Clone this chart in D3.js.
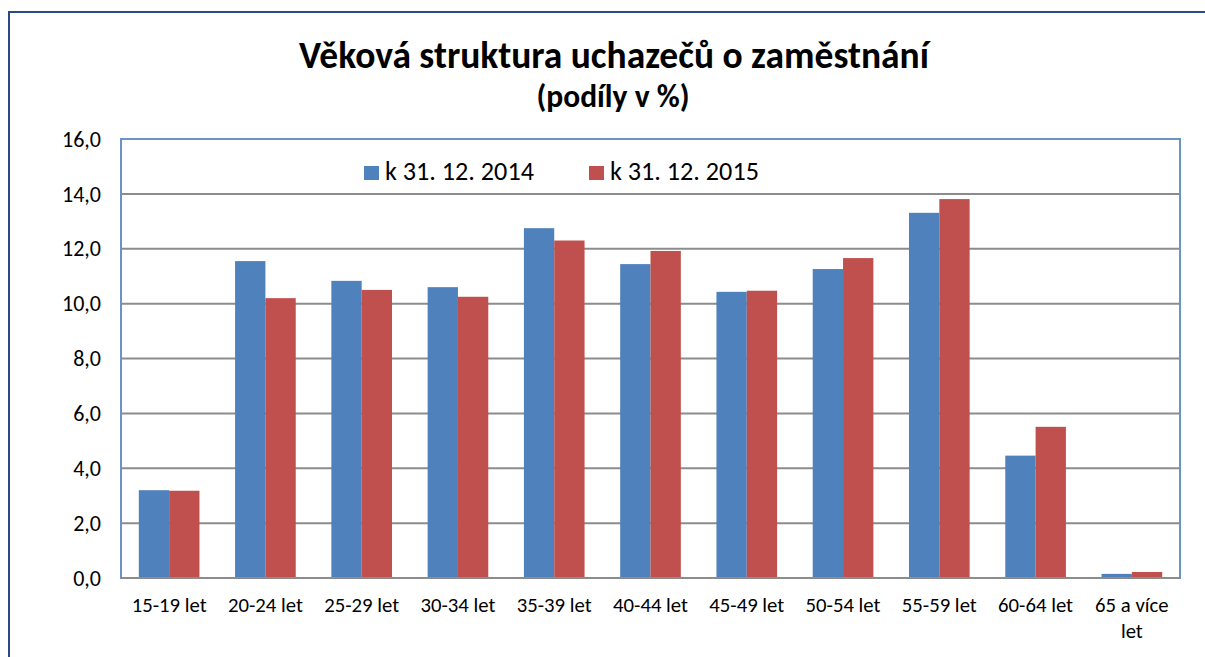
<!DOCTYPE html>
<html>
<head>
<meta charset="utf-8">
<script src="https://cdn.jsdelivr.net/npm/d3@7"></script>
<style>
  body { margin: 0; background: #fff; }
  svg { display: block; font-family: Carlito, Lato, "Open Sans", sans-serif; }
</style>
</head>
<body>
<div id="chart"></div>
<script>
// data
const categories = ["15-19 let", "20-24 let", "25-29 let", "30-34 let", "35-39 let",
  "40-44 let", "45-49 let", "50-54 let", "55-59 let", "60-64 let", "65 a více let"];
const series = ["k 31. 12. 2014", "k 31. 12. 2015"];
const values2014 = [3.2, 11.55, 10.83, 10.6, 12.75, 11.44, 10.43, 11.26, 13.31, 4.46, 0.15];
const values2015 = [3.18, 10.2, 10.5, 10.25, 12.3, 11.92, 10.47, 11.66, 13.81, 5.51, 0.22];
const yTicks = [0, 2, 4, 6, 8, 10, 12, 14, 16];
const colors = ["#4f81bd", "#c0504d"];

const width = 1205, height = 657;
const plot = { left: 121, right: 1180, top: 139, bottom: 578 };

const svg = d3.select("#chart").append("svg")
  .attr("width", width)
  .attr("height", height);

// font size that makes a sample string reach a given width
function fitSize(sample, target, weight) {
  const t = svg.append("text")
    .attr("font-size", 20)
    .attr("font-weight", weight || "normal")
    .text(sample);
  const w = t.node().getComputedTextLength();
  t.remove();
  return 20 * target / w;
}

const titleSize = fitSize("Věková struktura uchazečů o zaměstnání", 630, "bold");
const subSize = fitSize("(podíly v %)", 153, "bold");
const legendSize = fitSize("k 31. 12. 2014", 149);
const xLabelSize = fitSize("15-19 let", 75);
const yLabelSize = fitSize("16,0", 39);

// outer chart border
svg.append("rect")
  .attr("x", 9).attr("y", 12)
  .attr("width", 1210).attr("height", 700)
  .attr("fill", "none")
  .attr("stroke", "#2a4a85")
  .attr("stroke-width", 2);

// scales
const x = d3.scaleBand()
  .domain(categories)
  .range([plot.left, plot.right])
  .paddingInner(0.37)
  .paddingOuter(0.185);

const xs = d3.scaleBand()
  .domain(series)
  .range([0, x.bandwidth()]);

const y = d3.scaleLinear()
  .domain([0, 16])
  .range([plot.bottom, plot.top]);

// gridlines
svg.append("g")
  .selectAll("line")
  .data(yTicks.filter(d => d > 0 && d < 16))
  .join("line")
  .attr("x1", plot.left).attr("x2", plot.right)
  .attr("y1", d => y(d)).attr("y2", d => y(d))
  .attr("stroke", "#8c8c8c")
  .attr("stroke-width", 2);

// plot area outline
svg.append("rect")
  .attr("x", plot.left).attr("y", plot.top)
  .attr("width", plot.right - plot.left)
  .attr("height", plot.bottom - plot.top)
  .attr("fill", "none")
  .attr("stroke", "#6a93c8")
  .attr("stroke-width", 2);

// bars
const rows = categories.map((c, i) => ({ cat: c, vals: [values2014[i], values2015[i]] }));
svg.append("g")
  .selectAll("g")
  .data(rows)
  .join("g")
  .attr("transform", d => `translate(${x(d.cat)},0)`)
  .selectAll("rect")
  .data(d => d.vals.map((v, j) => ({ s: series[j], v, j })))
  .join("rect")
  .attr("x", d => xs(d.s))
  .attr("y", d => y(d.v))
  .attr("width", xs.bandwidth())
  .attr("height", d => y(0) - y(d.v))
  .attr("fill", d => colors[d.j]);

// x axis line
svg.append("line")
  .attr("x1", plot.left).attr("x2", plot.right)
  .attr("y1", plot.bottom).attr("y2", plot.bottom)
  .attr("stroke", "#8c8c8c")
  .attr("stroke-width", 2);

// y axis labels
const fmt = d => d.toFixed(1).replace(".", ",");
svg.append("g")
  .selectAll("text")
  .data(yTicks)
  .join("text")
  .attr("x", 101)
  .attr("y", d => y(d))
  .attr("dy", "0.35em")
  .attr("text-anchor", "end")
  .attr("font-size", yLabelSize)
  .attr("fill", "#000")
  .text(fmt);

// x axis labels
const xl = svg.append("g")
  .selectAll("text")
  .data(categories)
  .join("text")
  .attr("x", d => x(d) + x.bandwidth() / 2)
  .attr("y", 612)
  .attr("text-anchor", "middle")
  .attr("font-size", xLabelSize)
  .attr("fill", "#000");

xl.each(function (d) {
  const t = d3.select(this);
  if (d === "65 a více let") {
    t.append("tspan").attr("x", x(d) + x.bandwidth() / 2).text("65 a více");
    t.append("tspan").attr("x", x(d) + x.bandwidth() / 2).attr("dy", 26).text("let");
  } else {
    t.text(d);
  }
});

// title
svg.append("text")
  .attr("x", 614).attr("y", 68)
  .attr("text-anchor", "middle")
  .attr("font-size", titleSize)
  .attr("font-weight", "bold")
  .text("Věková struktura uchazečů o zaměstnání");

svg.append("text")
  .attr("x", 613).attr("y", 107)
  .attr("text-anchor", "middle")
  .attr("font-size", subSize)
  .attr("font-weight", "bold")
  .text("(podíly v %)");

// legend
const legendX = [364, 589];
const legend = svg.append("g")
  .selectAll("g")
  .data(series)
  .join("g")
  .attr("transform", (d, i) => `translate(${legendX[i]},166)`);

legend.append("rect")
  .attr("width", 15).attr("height", 14)
  .attr("fill", (d, i) => colors[i]);

legend.append("text")
  .attr("x", 21).attr("y", 14)
  .attr("font-size", legendSize)
  .text(d => d);
</script>
</body>
</html>
